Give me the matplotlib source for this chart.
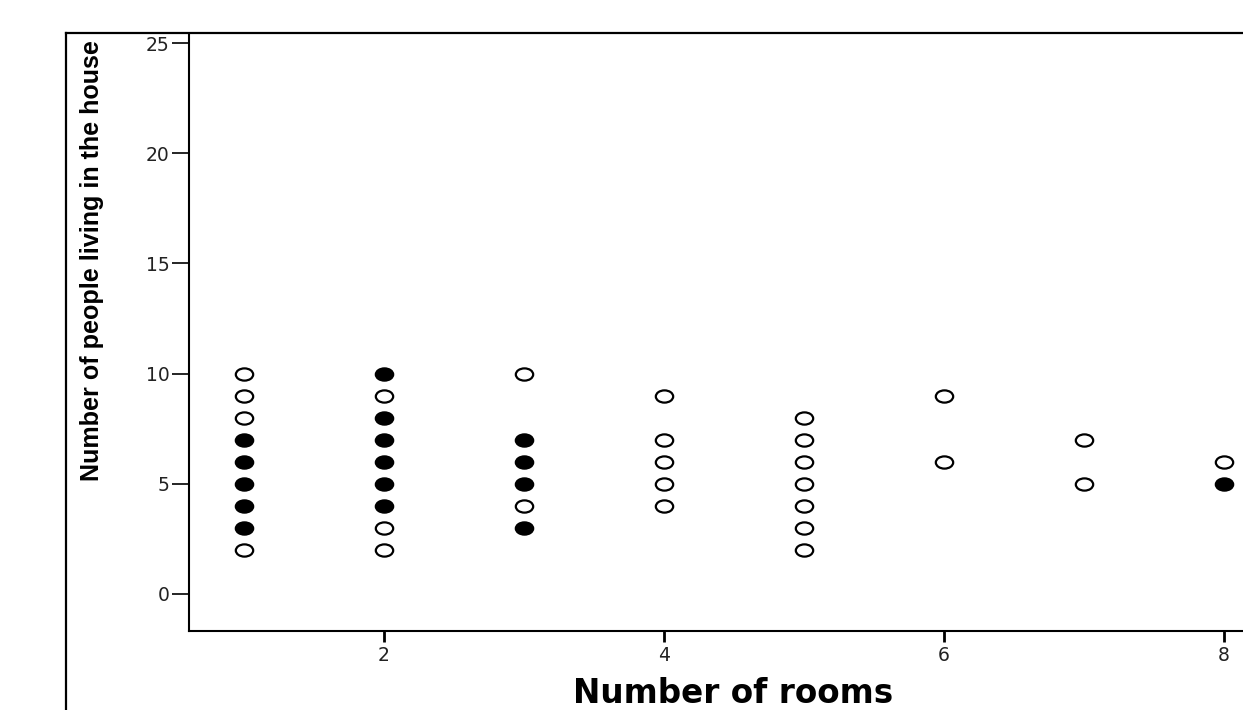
import matplotlib
matplotlib.use('Agg')
import matplotlib.pyplot as plt
from matplotlib.path import Path
from matplotlib.transforms import Affine2D
from matplotlib.lines import Line2D
from matplotlib import font_manager

# points drawn as open circles
rooms_open = [1, 1, 1, 1, 2, 2, 2, 3, 3, 4, 4, 4, 4, 4,
              5, 5, 5, 5, 5, 5, 5, 6, 6, 7, 7, 8]
people_open = [10, 9, 8, 2, 9, 3, 2, 10, 4, 9, 7, 6, 5, 4,
               8, 7, 6, 5, 4, 3, 2, 9, 6, 7, 5, 6]
# points drawn as filled circles
rooms_filled = [1, 1, 1, 1, 1, 2, 2, 2, 2, 2, 2, 3, 3, 3, 3, 8]
people_filled = [7, 6, 5, 4, 3, 10, 8, 7, 6, 5, 4, 7, 6, 5, 3, 5]

xticks = [2, 4, 6, 8]
yticks = [0, 5, 10, 15, 20, 25]

# pick a narrow font for the y label if one is there
installed = {f.name for f in font_manager.fontManager.ttflist}
narrow = 'DejaVu Sans'
for name in ['Liberation Sans Narrow', 'DejaVu Sans Condensed', 'Liberation Sans']:
    if name in installed:
        narrow = name
        break

# slightly wide ellipse, the original is stretched sideways
ellipse = Path.unit_circle().transformed(Affine2D().scale(1.42, 1.0))

fig = plt.figure(figsize=(12.43, 7.10), dpi=100)
ax = fig.add_axes([0.15205, 0.11127, 0.8753, 0.8408])

ax.plot(rooms_open, people_open, linestyle='none', marker=ellipse, ms=12.5,
        mfc='white', mec='black', mew=1.6)
ax.plot(rooms_filled, people_filled, linestyle='none', marker=ellipse, ms=12.5,
        mfc='black', mec='black', mew=1.6)

ax.set_xlim(0.607, 8.379)
ax.set_ylim(-1.68, 25.41)
ax.set_xticks(xticks)
ax.set_yticks(yticks)

for s in ['top', 'right']:
    ax.spines[s].set_visible(False)
for s in ['left', 'bottom']:
    ax.spines[s].set_linewidth(1.5)

ax.tick_params(axis='y', direction='out', length=12, width=1.2, pad=2,
               labelsize=13.5, labelcolor='#222222')
ax.tick_params(axis='x', direction='out', length=8, width=2, pad=3,
               labelsize=13.5, labelcolor='#222222')

ylab = fig.text(92/1243, 1-261/710, 'Number of people living in the house',
                rotation=90, ha='center', va='center', fontsize=20,
                fontweight='bold', family=narrow)
fig.text(733/1243, 1-703/710, 'Number of rooms', ha='center', va='baseline',
         fontsize=23.5, fontweight='bold', family='DejaVu Sans')

# fit the y label to the length it has in the original (about 440 px)
fig.canvas.draw()
h = ylab.get_window_extent().height
ylab.set_fontsize(20 * 440 / h)

# outer frame of the chart area
fig.add_artist(Line2D([66/1243, 66/1243], [0, 1-33/710], transform=fig.transFigure,
                      color='black', lw=1.6))
fig.add_artist(Line2D([66/1243, 1], [1-33/710, 1-33/710], transform=fig.transFigure,
                      color='black', lw=1.6))

plt.savefig('out.png', dpi=100)
